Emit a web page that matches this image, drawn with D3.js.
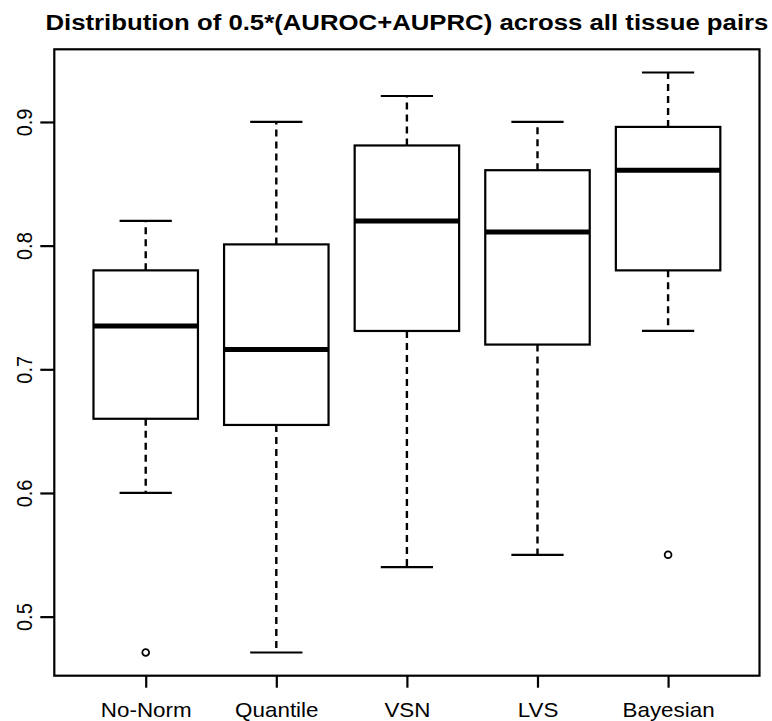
<!DOCTYPE html>
<html lang="en">
<head>
    <meta charset="UTF-8">
    <script src="https://cdnjs.cloudflare.com/ajax/libs/d3/7.8.5/d3.min.js"></script>
    <style>
        body {
            margin: 0;
            background: #fff;
        }

        text {
            font-family: "Liberation Sans", Arial, sans-serif;
            fill: #000;
        }
    </style>
</head>
<body>
<svg id="chart" width="772" height="721"></svg>

<script>
    // values
    var categories = ["No-Norm", "Quantile", "VSN", "LVS", "Bayesian"];
    var lowerWhisker = [0.600, 0.471, 0.540, 0.550, 0.731];
    var q1 = [0.660, 0.655, 0.731, 0.720, 0.780];
    var median = [0.735, 0.716, 0.820, 0.811, 0.861];
    var q3 = [0.780, 0.801, 0.881, 0.861, 0.896];
    var upperWhisker = [0.820, 0.900, 0.921, 0.900, 0.940];
    var outliers = [[0.471], [], [], [], [0.550]];
    var yTicks = [0.5, 0.6, 0.7, 0.8, 0.9];
    var title = "Distribution of 0.5*(AUROC+AUPRC) across all tissue pairs";

    var plot = {left: 54.3, right: 759.5, top: 49.3, bottom: 675.7};
    var stretch = 1.12; // the reference is slightly wider than tall

    var svg = d3.select("#chart");

    // R style: 4% extension of the data range
    var all = lowerWhisker.concat(upperWhisker, d3.merge(outliers));
    var lo = d3.min(all), hi = d3.max(all), pad = (hi - lo) * 0.04;

    var x = d3.scaleLinear()
        .domain([0.3, categories.length + 0.7])
        .range([plot.left, plot.right]);

    var y = d3.scaleLinear()
        .domain([lo - pad, hi + pad])
        .range([plot.bottom, plot.top]);

    var boxW = x(1.8) - x(1);

    var boxes = categories.map(function (c, i) {
        return {
            name: c, pos: i + 1, lw: lowerWhisker[i], q1: q1[i],
            med: median[i], q3: q3[i], uw: upperWhisker[i], out: outliers[i]
        };
    });

    var g = svg.selectAll("g.box").data(boxes).enter().append("g").attr("class", "box");

    // whiskers
    g.append("line")
        .attr("x1", function (d) { return x(d.pos); })
        .attr("x2", function (d) { return x(d.pos); })
        .attr("y1", function (d) { return y(d.q3); })
        .attr("y2", function (d) { return y(d.uw); })
        .attr("stroke", "#000").attr("stroke-width", 2.4).attr("stroke-dasharray", "7,5");
    g.append("line")
        .attr("x1", function (d) { return x(d.pos); })
        .attr("x2", function (d) { return x(d.pos); })
        .attr("y1", function (d) { return y(d.q1); })
        .attr("y2", function (d) { return y(d.lw); })
        .attr("stroke", "#000").attr("stroke-width", 2.4).attr("stroke-dasharray", "7,5");

    // staples
    ["uw", "lw"].forEach(function (k) {
        g.append("line")
            .attr("x1", function (d) { return x(d.pos) - boxW / 4; })
            .attr("x2", function (d) { return x(d.pos) + boxW / 4; })
            .attr("y1", function (d) { return y(d[k]); })
            .attr("y2", function (d) { return y(d[k]); })
            .attr("stroke", "#000").attr("stroke-width", 2.2);
    });

    // box
    g.append("rect")
        .attr("x", function (d) { return x(d.pos) - boxW / 2; })
        .attr("y", function (d) { return y(d.q3); })
        .attr("width", boxW)
        .attr("height", function (d) { return y(d.q1) - y(d.q3); })
        .attr("fill", "#fff").attr("stroke", "#000").attr("stroke-width", 2.2);

    // median
    g.append("line")
        .attr("x1", function (d) { return x(d.pos) - boxW / 2; })
        .attr("x2", function (d) { return x(d.pos) + boxW / 2; })
        .attr("y1", function (d) { return y(d.med); })
        .attr("y2", function (d) { return y(d.med); })
        .attr("stroke", "#000").attr("stroke-width", 5);

    // outliers
    g.selectAll("circle")
        .data(function (d) { return d.out.map(function (v) { return {pos: d.pos, v: v}; }); })
        .enter().append("circle")
        .attr("cx", function (d) { return x(d.pos); })
        .attr("cy", function (d) { return y(d.v); })
        .attr("r", 3.4)
        .attr("fill", "none").attr("stroke", "#000").attr("stroke-width", 1.8);

    // frame
    svg.append("rect")
        .attr("x", plot.left).attr("y", plot.top)
        .attr("width", plot.right - plot.left).attr("height", plot.bottom - plot.top)
        .attr("fill", "none").attr("stroke", "#000").attr("stroke-width", 2.2);

    // y axis
    var yAxis = svg.append("g")
        .attr("transform", "translate(" + plot.left + ",0)")
        .call(d3.axisLeft(y).tickValues(yTicks).tickSize(14).tickSizeOuter(0).tickFormat(d3.format(".1f")));
    yAxis.select(".domain").remove();
    yAxis.selectAll(".tick line").attr("stroke", "#000").attr("stroke-width", 2.2);
    yAxis.selectAll(".tick text").remove();
    yAxis.selectAll(".tick").append("text")
        .attr("transform", "translate(-22,0) scale(" + stretch + ",1) rotate(-90)")
        .attr("text-anchor", "middle")
        .attr("font-size", 20)
        .text(d3.format(".1f"));

    // x axis
    var xAxis = svg.append("g")
        .attr("transform", "translate(0," + plot.bottom + ")")
        .call(d3.axisBottom(x).tickValues(boxes.map(function (d) { return d.pos; }))
            .tickSize(12).tickSizeOuter(0).tickFormat(function (p) { return categories[p - 1]; }));
    xAxis.select(".domain").remove();
    xAxis.selectAll(".tick line").attr("stroke", "#000").attr("stroke-width", 2.2);
    xAxis.selectAll(".tick text").remove();
    xAxis.selectAll(".tick").append("text")
        .attr("transform", "translate(0,41) scale(" + stretch + ",1)")
        .attr("text-anchor", "middle")
        .attr("font-size", 20)
        .text(function (p) { return categories[p - 1]; });

    // title
    svg.append("text")
        .attr("x", (plot.left + plot.right) / 2)
        .attr("y", 30)
        .attr("text-anchor", "middle")
        .attr("font-size", 22)
        .attr("font-weight", "bold")
        .attr("textLength", 723)
        .attr("lengthAdjust", "spacingAndGlyphs")
        .text(title);
</script>
</body>
</html>
